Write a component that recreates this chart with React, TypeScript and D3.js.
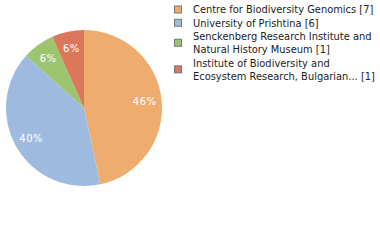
import React from 'react';
import * as d3 from 'd3';

// chart data
const categories = [
  'Centre for Biodiversity Genomics',
  'University of Prishtina',
  'Senckenberg Research Institute and Natural History Museum',
  'Institute of Biodiversity and Ecosystem Research, Bulgarian...',
];
const legendLines = [
  ['Centre for Biodiversity Genomics [7]'],
  ['University of Prishtina [6]'],
  ['Senckenberg Research Institute and', 'Natural History Museum [1]'],
  ['Institute of Biodiversity and', 'Ecosystem Research, Bulgarian... [1]'],
];
const counts = [7, 6, 1, 1];
const colors = ['#EFAC6F', '#9EBBDF', '#9DC46F', '#DD775C'];

const width = 380;
const height = 240;

const App = () => {
  const cx = 84;
  const cy = 108;
  const radius = 78;

  const total = d3.sum(counts);
  const pie = d3.pie<number>().sort(null).value(d => d)(counts);
  const arc = d3.arc<d3.PieArcDatum<number>>().innerRadius(0).outerRadius(radius);
  const labelArc = d3.arc<d3.PieArcDatum<number>>().innerRadius(61).outerRadius(61);

  // legend layout
  const lineH = 13.3;
  const legendX = 174;
  let lineIdx = 0;
  const legendItems = legendLines.map((lines, i) => {
    const first = lineIdx;
    lineIdx += lines.length;
    return { lines, first, i };
  });

  return (
    <svg width={width} height={height} style={{ position: 'absolute', left: 0, top: 0 }}>
      <g transform={`translate(${cx},${cy})`}>
        {pie.map((d, i) => (
          <path key={categories[i]} d={arc(d) || ''} fill={colors[i]} />
        ))}
        {pie.map((d, i) => {
          const [x, y] = labelArc.centroid(d);
          return (
            <text
              key={'l' + i}
              x={x}
              y={y}
              dy="0.35em"
              textAnchor="middle"
              fill="#fff"
              fontFamily="DejaVu Sans"
              fontSize={10}
              letterSpacing={0.5}
            >
              {Math.floor((d.data / total) * 100) + '%'}
            </text>
          );
        })}
      </g>
      <g fontFamily="DejaVu Sans" fontSize={9.9} fill="#222">
        {legendItems.map(item => {
          const top = 13.3 + item.first * lineH;
          const mid = top - 3.8 + ((item.lines.length - 1) * lineH) / 2;
          return (
            <g key={item.i}>
              <rect
                x={legendX + 0.5}
                y={mid - 3.5}
                width={7}
                height={7}
                fill={colors[item.i]}
                stroke="#777"
                strokeWidth={1}
              />
              {item.lines.map((t, j) => (
                <text key={j} x={193} y={top + j * lineH}>
                  {t}
                </text>
              ))}
            </g>
          );
        })}
      </g>
    </svg>
  );
};

export default App;
